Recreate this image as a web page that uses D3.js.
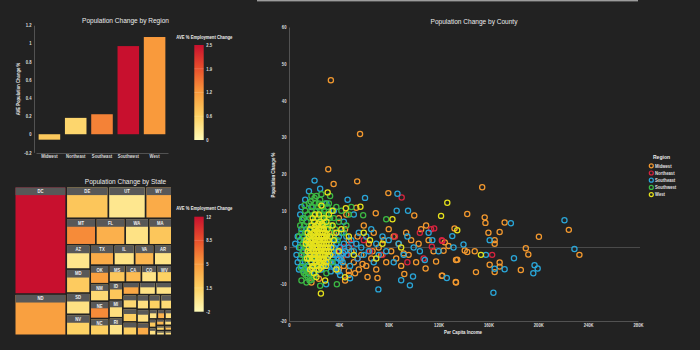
<!DOCTYPE html>
<html><head><meta charset="utf-8">
<script src="https://cdn.jsdelivr.net/npm/d3@7"></script>
<style>
html,body{margin:0;padding:0;background:#222222;}
svg{display:block;}
text{font-family:"Liberation Sans",Arial,sans-serif;}
</style></head><body>
<svg id="c" width="700" height="350"></svg>
<script>
// ---------------- DATA ----------------
const regions = ["Midwest","Northeast","Southeast","Southwest","West"];
const regionPopChange = [-0.06,0.18,0.22,0.97,1.07];
const regionEmpChange = [0.72,0.55,1.45,2.5,1.25];
const barYTicks = [-0.2,0,0.2,0.4,0.6,0.8,1,1.2];
const regionEmpTicks = [0,0.625,1.25,1.875,2.5];
const regionEmpTickLabels = ["0","0.6","1.2","1.9","2.5"];

const states = ["DC","ND","DE","UT","WY","MT","FL","WA","MA","AZ","MD","SD","NV","TX","IL","VA","AR","OK","NM","NE","NC","MS","CA","CO","WV","ID","MI","RI","TN","KS","IA","NJ","NH","MO","SC","AL","OR","OH","GA","PA","IN","WI","MN","KY","LA","CT","ME","VT","HI","AK"];
const stateSize = [5416,2081,1305,1152,814,768,760,613,597,569,562,498,493,470,414,388,352,342,321,319,309,272,266,256,250,242,240,238,202,200,198,190,188,186,170,166,162,156,152,78,72,66,60,55,51,47,43,39,36,34];
const stateEmp = [12,4.6,2.2,-0.3,3.9,5.7,3.6,0.1,2.2,-0.2,1.9,0.2,1.4,3.9,0,3.2,0,4.7,0.8,5.7,1.6,2.2,2.9,0,1.5,2.2,0.4,0,4.2,0.1,0.1,0.9,1.6,1.6,0.3,1.5,0.7,0.3,3.9,0.2,3.5,0.5,2.0,0.1,3.0,0.3,1.2,0.0,2.5,0.4];
const stateEmpTicks = [-2,1.5,5,8.5,12];
const stateEmpTickLabels = ["-2","1.5","5","8.5","12"];

const incomeTicks = [0,40,80,120,160,200,240,280];
const changeTicks = [-20,-10,0,10,20,30,40,50,60];
const seriesNames = ["Midwest","Northeast","Southeast","Southwest","West"];
const seriesColors = ["#f3992f","#d9243f","#2aa6d8","#3cba44","#e6e21c"];

// [per capita income (K), population change %]
const midwestPts = [[33.6,45.5],[57,30.9],[31.5,21.3],[35.8,17.3],[54.7,18],[79.7,14.8],[69.6,9.3],[100.5,8.7],[54,10.8],[40,8],[45,5],[48,2],[50,-1],[52,-4],[55,3],[58,-2],[60,6],[62,-5],[64,1],[66,-3],[68,4],[70,-6],[72,0],[74,-2],[76,2],[78,-4],[80,5],[82,-1],[84,3],[86,-3],[88,1],[90,-5],[92,-1.6],[94,4],[96,-2],[98,2],[102,-4],[104,1],[106,5],[109.6,-5.7],[118,-3.8],[122.6,-7.7],[133.8,-9.4],[134,-3.4],[71,-8.3],[92.5,-7.2],[15,-6.7],[48,-7.5],[48,-6.4],[42,-3],[44,-5],[38,-2],[36,4],[56,-6],[46,9],[155,16.4],[143,9.1],[157,8.2],[157.6,6.7],[173,6.8],[132.8,5.2],[160,4],[169,4.2],[200.5,2.9],[224.5,4.8],[165,2],[165,1],[125,1.4],[128,0.4],[124,-0.9],[141,-0.8],[143,-1.2],[149,-1],[190,-0.2],[192,-1.9],[233,-2],[135,-3.3],[161,-4.7],[169,-4.1],[169,-5.2],[165,-6.7],[150,-6.7],[186,-6.1],[123,-7.7],[134,-9.5],[112,2],[116,-1],[110,6],[40,-6],[45,-9],[53,-7],[59,-4.5],[63,-8],[67,-1],[12,-2],[18,-9.5],[24,-8.5],[32,-4]];
const northeastPts = [[114,5],[116.5,5.2],[122.6,2],[114.6,0.2],[123,1.8],[163,-2],[90.4,13.6],[41,-1],[44,0],[46,-2],[50,1],[55,-3],[60,2],[65,-1],[75,-2],[85,3],[95,-4],[105,4],[108,-3]];
const southeastPts = [[5,1],[6,-2],[7,3],[7,-4],[8,0],[8,-6],[9,2],[9,-3],[10,5],[10,-5],[11,-1],[11,3],[12,-6],[12,0],[13,-4],[13,2],[14,-2],[14,5],[15,-5],[15,1],[16,-7],[16,-2],[17,-4],[17,2],[18,-6],[18,0],[19,-3],[20,-5],[21,-7],[22,-2],[23,-6],[24,-4],[26,-6],[28,-5],[30,-3],[31,-5],[32,-2],[33,-4],[34,-1],[34,1],[35,-3],[36,0],[36,-5],[37,-2],[37,2],[38,-4],[38,1],[39,-1],[40,-3],[40,3],[41,0],[42,-2],[42,4],[43,-4],[44,1],[45,-1],[46,3],[47,-2],[48,0],[49,-5],[50,2],[52,-1],[54,1],[55,-3],[56,4],[58,0],[60,-2],[62,3],[64,-1],[66,5],[68,-4],[70,1],[72,-2],[75,3],[78,-1],[80,2],[84,-4],[88,1],[92,-2],[95,3],[100,0],[105,-1],[109,-3.4],[20.5,18.2],[16,15.3],[13,13],[10,11],[12,8],[9,9],[61,13.5],[87,14.6],[95.5,10],[86.4,10],[47,13],[52,9],[44,7],[30,12],[36,10],[25,16],[18,11],[90,-8.9],[97,-10.3],[99.5,-7.9],[71.7,-11.4],[29.8,-10],[49,-8.4],[41,-7.5],[221,7.4],[178,6.6],[131,3.1],[161,2],[140,0.8],[132,0],[229,-0.4],[158,-2],[180.5,-2.9],[197,-4.8],[199.5,-5.7],[196,-7],[165,-5.8],[173,-5.9],[126.6,-8.3],[164,-12.3],[115,2],[120,-1],[112,4],[33.5,-6.5],[35.5,-2],[38.5,-5.5],[41.5,-3.5],[43.5,-1.5],[39.5,-6.5]];
const southwestPts = [[8,3],[9,0],[9,6],[10,-2],[10,4],[11,1],[11,8],[11,-4],[12,2],[12,-1],[12,6],[13,-3],[13,4],[13,10],[14,0],[14,7],[14,-6],[15,2],[15,9],[15,-8],[16,5],[16,12],[16,-5],[17,8],[17,3],[18,10],[18,-3],[18,14],[19,6],[19,11],[20,9],[20,-8],[21,12],[21,7],[22,10],[22,14],[23,8],[23,11],[24,12],[24,7],[25,10],[25,13],[26,8],[26,6],[27,11],[27,9],[28,10],[28,7],[29,12],[29,6],[30,9],[30,5],[31,11],[31,8],[32,6],[32,12],[33,8],[33,4],[34,10],[34,6],[35,3],[36,8],[37,5],[38,11],[39,2],[40,7],[42,10],[44,4],[46,6],[48,9],[50,11],[59.5,8.8],[78,7.7],[25,-10.4],[38.4,-10],[18,-8.8],[12,-7],[10,-9],[14,-9.5],[22,-6],[30,-7],[35,-4],[19,3],[23,5],[27,6],[33,14],[26,14.5],[20,-5],[16,1],[9.5,-5.5],[11.5,-6.5],[13.5,-7.5],[16.5,-9],[19.5,-7],[10.5,7.5],[12.5,11.5],[17.5,12.5],[20.5,13.5]];
const westPts = [[14,2],[15,-1],[15,4],[16,0],[16,3],[16,-3],[17,1],[17,5],[17,-2],[18,2],[18,-4],[18,6],[19,0],[19,3],[19,-1],[19,-5],[20,1],[20,4],[20,-2],[20,7],[21,0],[21,2],[21,-3],[21,5],[22,1],[22,-1],[22,3],[22,-4],[22,6],[23,0],[23,2],[23,4],[23,-2],[23,-5],[24,1],[24,-1],[24,3],[24,5],[24,-3],[25,0],[25,2],[25,-2],[25,4],[25,7],[25,-4],[26,1],[26,-1],[26,3],[26,5],[26,-3],[27,0],[27,2],[27,-2],[27,4],[27,6],[28,1],[28,-1],[28,3],[28,-3],[28,5],[29,0],[29,2],[29,-2],[29,4],[30,1],[30,-1],[30,3],[30,-4],[31,0],[31,2],[31,5],[32,-1],[32,1],[33,3],[33,-2],[34,0],[35,6],[36,2],[38,4],[40,-1],[17,-6],[20,-7],[24,-6],[27,-5],[21,9],[24,9],[28,8],[19,8],[30,7],[32,9],[26,11.4],[31,15],[35,10],[42,5],[45.6,10.7],[57.3,11.1],[48,3],[52,-2],[60,4],[65,2],[83,7.7],[70,-3],[75,1],[90,0],[122,8.6],[127,12.2],[135,4.7],[154,-2],[25.6,-12.5],[45,-8.1],[38,-6],[29,-9],[22,-8],[15.5,1.5],[16.5,-1.5],[17.5,3.5],[18.5,0.5],[19.5,-3],[20.5,2.5],[21.5,-1],[22.5,4.5],[23.5,-3.5],[24.5,1.5],[25.5,-0.5],[26.5,3],[27.5,-3.5],[28.5,2],[29.5,-1],[30.5,3.5],[31.5,-2.5],[20.5,5.5],[23.5,6.5],[26.5,6.5],[18.5,-5.5],[22.5,-5],[25.5,-5.5],[29.5,-5],[14.5,-3],[13.5,1]];
const seriesPts = [midwestPts,northeastPts,southeastPts,southwestPts,westPts];

// ---------------- HELPERS ----------------
const svg = d3.select("#c");
const SX = 0.84;
function txt(g, x, y, s, size, opt){
  opt = opt||{};
  return g.append("text")
    .attr("transform", `translate(${x},${y})` + (opt.rot?` rotate(${opt.rot})`:"") + ` scale(${opt.sx||SX},1)`)
    .attr("text-anchor", opt.anchor||"middle")
    .attr("font-size", size)
    .attr("font-weight", opt.weight||"normal")
    .attr("fill", opt.fill||"#ececec")
    .text(s);
}
const ramp = ["#fffbb8","#fdd163","#f99a3c","#e9502c","#c8102e"];
function empScale(lo, hi){
  return d3.scaleLinear().domain(d3.range(5).map(i=>lo+(hi-lo)*i/4)).range(ramp).clamp(true);
}
function styleAxis(g, size){
  g.select(".domain").attr("stroke","#5e5e5e").attr("stroke-width",0.8);
  g.selectAll(".tick line").remove();
  g.selectAll(".tick text").attr("fill","#dcdcdc").attr("font-size",size).attr("font-weight","bold")
   .attr("font-family","'Liberation Sans',Arial,sans-serif")
   .attr("transform",`scale(${SX},1)`);
}
const defs = svg.append("defs");
function gradientLegend(id, x, y0, y1, lo, hi, ticks, labels, title){
  const lg = defs.append("linearGradient").attr("id",id).attr("x1",0).attr("y1",1).attr("x2",0).attr("y2",0);
  ramp.forEach((c,i)=>lg.append("stop").attr("offset",i/4).attr("stop-color",c));
  const g = svg.append("g");
  txt(g, x+10, y0-6.5, title, 5, {weight:"bold"});
  g.append("rect").attr("x",x).attr("y",y0).attr("width",9.4).attr("height",y1-y0).attr("fill",`url(#${id})`);
  const s = d3.scaleLinear().domain([lo,hi]).range([y1,y0]);
  ticks.forEach((t,i)=>{
    if(i>0 && i<ticks.length-1) g.append("line").attr("x1",x).attr("x2",x+9.4).attr("y1",s(t)).attr("y2",s(t)).attr("stroke","#ffffff").attr("stroke-opacity",0.25).attr("stroke-width",0.6);
    txt(g, x+12, s(t)+1.8, labels[i], 5, {anchor:"start", weight:"bold", fill:"#dcdcdc"});
  });
}

// top border line
svg.append("rect").attr("x",257).attr("y",0).attr("width",381).attr("height",1.4).attr("fill","#9c9c9c");

// ---------------- BAR CHART ----------------
{
  const g = svg.append("g");
  txt(g, 125.5, 23, "Population Change by Region", 7.8);
  const x = d3.scaleBand().domain(regions).range([36,168]).paddingInner(0.18).paddingOuter(0.1);
  const y = d3.scaleLinear().domain([-0.2,1.2]).range([152.4,25.2]);
  const col = empScale(0,2.5);
  g.selectAll("rect.bar").data(regions).join("rect").attr("class","bar")
    .attr("x",d=>x(d)).attr("width",x.bandwidth())
    .attr("y",(d,i)=>y(Math.max(0,regionPopChange[i])))
    .attr("height",(d,i)=>Math.abs(y(regionPopChange[i])-y(0)))
    .attr("fill",(d,i)=>col(regionEmpChange[i]));
  const ya = g.append("g").attr("transform","translate(34,0)")
    .call(d3.axisLeft(y).tickValues(barYTicks).tickSize(0).tickPadding(3).tickFormat(d=>String(d)));
  styleAxis(ya, 5);
  const xa = g.append("g").attr("transform","translate(0,153)")
    .call(d3.axisBottom(x).tickSize(0).tickPadding(1.6));
  styleAxis(xa, 5);
  txt(g, 19.5, 89, "AVE Population Change %", 5, {rot:-90, weight:"bold"});
  gradientLegend("g1", 194.3, 45, 140, 0, 2.5, regionEmpTicks, regionEmpTickLabels, "AVE % Employment Change");
}

// ---------------- TREEMAP ----------------
{
  const g = svg.append("g");
  txt(g, 125.5, 183.5, "Population Change by State", 7.8);
  const col = empScale(-2,12);
  const rows = states.map((s,i)=>({name:s, size:stateSize[i], emp:stateEmp[i]}));
  const root = d3.hierarchy({children:rows}).sum(d=>d.size||0).sort((a,b)=>b.value-a.value);
  d3.treemap().tile(d3.treemapSquarify.ratio(1)).size([155.5,147]).paddingInner(1.7)(root);
  const tg = g.append("g").attr("transform","translate(15.5,187.5)");
  const cell = tg.selectAll("g").data(root.leaves()).join("g");
  cell.append("rect").attr("x",d=>d.x0).attr("y",d=>d.y0)
    .attr("width",d=>Math.max(0,d.x1-d.x0)).attr("height",d=>Math.max(0,d.y1-d.y0))
    .attr("fill",d=>col(d.data.emp));
  const hh = d=>Math.min(7.6,(d.y1-d.y0)*0.4);
  cell.append("rect").attr("x",d=>d.x0).attr("y",d=>d.y0)
    .attr("width",d=>Math.max(0,d.x1-d.x0)).attr("height",hh).attr("fill","#585858");
  cell.filter(d=>hh(d)>=6 && d.x1-d.x0>=9).each(function(d){
    txt(d3.select(this), (d.x0+d.x1)/2, d.y0+5.5, d.data.name, 5, {weight:"bold", fill:"#f0f0f0"});
  });
  gradientLegend("g2", 194.3, 216.7, 311.7, -2, 12, stateEmpTicks, stateEmpTickLabels, "AVE % Employment Change");
}

// ---------------- SCATTER ----------------
{
  const g = svg.append("g");
  const x = d3.scaleLinear().domain([0,280]).range([289,638]);
  const y = d3.scaleLinear().domain([-20,60]).range([321,27]);
  txt(g, 474, 23.5, "Population Change by County", 7.8);
  g.append("line").attr("x1",x(0)).attr("x2",640).attr("y1",y(0)).attr("y2",y(0)).attr("stroke","#4a4a4a").attr("stroke-width",1);
  const xa = g.append("g").attr("transform",`translate(0,${y(-20)})`)
    .call(d3.axisBottom(x).tickValues(incomeTicks).tickSize(0).tickPadding(2).tickFormat(d=>d===0?"0":d+"K"));
  styleAxis(xa, 5);
  const ya = g.append("g").attr("transform",`translate(${x(0)},0)`)
    .call(d3.axisLeft(y).tickValues(changeTicks).tickSize(0).tickPadding(3).tickFormat(d=>String(d)));
  styleAxis(ya, 5);
  txt(g, 463, 333.5, "Per Capita Income", 5.2, {weight:"bold"});
  txt(g, 275, 175, "Population Change %", 5.2, {rot:-90, weight:"bold"});
  seriesPts.forEach((pts,si)=>{
    g.append("g").selectAll("circle").data(pts).join("circle")
      .attr("cx",d=>x(d[0])).attr("cy",d=>y(d[1])).attr("r",2.6)
      .attr("fill","none").attr("stroke",seriesColors[si]).attr("stroke-width",1.25);
  });
  const lg = svg.append("g");
  txt(lg, 661.5, 159, "Region", 6, {weight:"bold"});
  seriesNames.forEach((n,i)=>{
    const yy = 165.8 + i*7.2;
    lg.append("circle").attr("cx",651.3).attr("cy",yy).attr("r",2).attr("fill","none").attr("stroke",seriesColors[i]).attr("stroke-width",1.2);
    txt(lg, 655, yy+1.7, n, 5, {anchor:"start", weight:"bold", fill:"#e0e0e0"});
  });
}
</script></body></html>
